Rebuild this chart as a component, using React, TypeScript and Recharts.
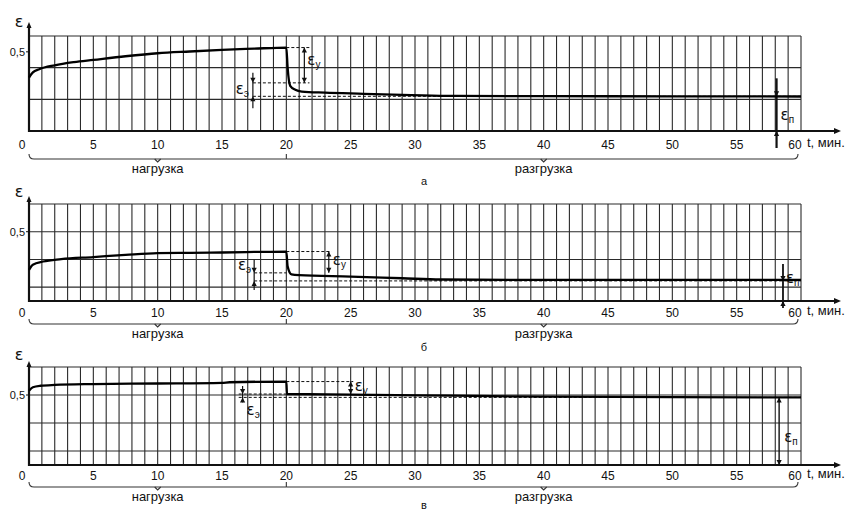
import React from "react";
import {
  CartesianGrid,
  ComposedChart,
  Line,
  ReferenceLine,
  XAxis,
  YAxis,
} from "recharts";

const FONT = '"Liberation Sans Narrow", "Liberation Sans", Arial, sans-serif';
const EPS_FONT = '"DejaVu Sans", "Liberation Sans", sans-serif';
const INK = "#111";
const GRID = "#2a2a2a";

const X_TICKS = [0, 5, 10, 15, 20, 25, 30, 35, 40, 45, 50, 55, 60];
const Y_TICKS = [0.5];
const GRID_MINUTES = Array.from({ length: 61 }, (_, i) => i);
const GRID_EPS_A = [0, 0.1, 0.2, 0.3, 0.4, 0.5, 0.6];
const GRID_EPS_BV = [0, 0.1, 0.2, 0.3, 0.4, 0.5, 0.6, 0.7];

// а
const A_T = [0, 0.3, 0.8, 2, 3.5, 5, 7.5, 10, 12.5, 15, 17.5, 20, 20.1, 20.3, 20.7, 21.2, 23, 26, 29, 32.5, 40, 50, 60];
const A_EPS = [0.337, 0.37, 0.39, 0.415, 0.435, 0.449, 0.472, 0.491, 0.502, 0.512, 0.52, 0.527, 0.4, 0.285, 0.26, 0.249, 0.242, 0.235, 0.228, 0.222, 0.22, 0.219, 0.218];

// б
const B_T = [0, 0.3, 1.1, 2.5, 5, 7.5, 10, 12.5, 15, 17.5, 20, 20.1, 20.4, 21, 25, 29, 32, 40, 50, 60];
const B_EPS = [0.225, 0.262, 0.285, 0.302, 0.317, 0.333, 0.346, 0.348, 0.35, 0.354, 0.357, 0.25, 0.192, 0.186, 0.176, 0.164, 0.155, 0.152, 0.152, 0.152];

// в
const C_T = [0, 0.3, 0.9, 2, 5, 10, 15, 15.6, 20, 20.05, 25, 33, 40, 50, 60];
const C_EPS = [0.53, 0.555, 0.566, 0.572, 0.578, 0.582, 0.587, 0.591, 0.596, 0.507, 0.503, 0.495, 0.488, 0.485, 0.483];

const toRows = (ts: number[], es: number[]) => ts.map((t, i) => ({ t, eps: es[i] }));

function EpsText({ x, y, sub, anchor = "start" }: any) {
  return (
    <text x={x} y={y} textAnchor={anchor} fill={INK} fontFamily={EPS_FONT} fontSize={15}>
      ε
      <tspan fontSize={10} dy={3} fontFamily={FONT}>
        {sub}
      </tspan>
    </text>
  );
}

function dimArrow(
  mode: "in" | "out",
  sub: string,
  lx: number,
  ly: number,
  extTop = 0,
  extBottom = 0,
  sw = 1.2,
  anchor: "start" | "end" = "start"
) {
  return (p: any) => {
    const x = p.x1;
    const top = Math.min(p.y1, p.y2);
    const bot = Math.max(p.y1, p.y2);
    const h = 5;
    const w = 2.6;
    const heads =
      mode === "in"
        ? [
            `${x},${top} ${x - w},${top - h} ${x + w},${top - h}`,
            `${x},${bot} ${x - w},${bot + h} ${x + w},${bot + h}`,
          ]
        : [
            `${x},${top} ${x - w},${top + h} ${x + w},${top + h}`,
            `${x},${bot} ${x - w},${bot - h} ${x + w},${bot - h}`,
          ];
    return (
      <g>
        <line x1={x} x2={x} y1={top - extTop} y2={bot + extBottom} stroke={INK} strokeWidth={sw} />
        {heads.map((pts) => (
          <polygon key={pts} points={pts} fill={INK} />
        ))}
        <EpsText x={x + lx} y={(top + bot) / 2 + ly} sub={sub} anchor={anchor} />
      </g>
    );
  };
}

const xAxisShape = (dy: number) => (p: any) => {
  const end = p.x2 + 40;
  return (
    <g>
      <line x1={p.x1 - 1} x2={end - 4} y1={p.y1} y2={p.y1} stroke={INK} strokeWidth={2.2} />
      <polygon points={`${end},${p.y1} ${end - 7},${p.y1 - 3} ${end - 7},${p.y1 + 3}`} fill={INK} />
      <text x={p.x2 + 6} y={p.y1 + dy} fill={INK} fontFamily={FONT} fontSize={13}>
        t, мин.
      </text>
    </g>
  );
};

const yAxisShape = (ext: number, epsDy: number) => (p: any) => {
  const top = Math.min(p.y1, p.y2);
  const bot = Math.max(p.y1, p.y2);
  const tip = top - ext;
  return (
    <g>
      <line x1={p.x1} x2={p.x1} y1={bot + 1} y2={tip + 4} stroke={INK} strokeWidth={2.2} />
      <polygon points={`${p.x1},${tip} ${p.x1 - 2.5},${tip + 6} ${p.x1 + 2.5},${tip + 6}`} fill={INK} />
      <text x={p.x1 - 10} y={top - epsDy} textAnchor="middle" fill={INK} fontFamily={EPS_FONT} fontSize={16}>
        ε
      </text>
    </g>
  );
};

const braceShape = (dy: number, label: string, first: boolean) => (p: any) => {
  const y = p.y1 + dy;
  const x1 = p.x1;
  const x2 = first ? p.x2 : p.x2 - 3;
  const mid = (p.x1 + p.x2) / 2;
  const d = first
    ? `M${x1},${y - 5} Q${x1},${y} ${x1 + 5},${y} L${x2},${y} M${x2},${y} L${x2},${y - 5}`
    : `M${x1},${y} L${x2 - 5},${y} Q${x2},${y} ${x2},${y - 5}`;
  return (
    <g>
      <path d={d} fill="none" stroke="#333" strokeWidth={1.1} />
      <path d={`M${mid - 3},${y} L${mid},${y + 3} L${mid + 3},${y}`} fill="none" stroke="#333" strokeWidth={1.1} />
      <text x={mid} y={y + 14} textAnchor="middle" fill={INK} fontFamily={FONT} fontSize={13}>
        {label}
      </text>
    </g>
  );
};

const xTick = (dy: number) => (p: any) => {
  const v = p.payload.value;
  const dx = v === 0 ? -7 : v === 60 ? -6 : 0;
  return (
    <text x={p.x + dx} y={p.y + dy} textAnchor="middle" fontSize={12} fontFamily={FONT} fill={INK}>
      {v}
    </text>
  );
};

const dashed = (t1: number, t2: number, e: number, key: string) => (
  <ReferenceLine
    key={key}
    segment={[
      { x: t1, y: e },
      { x: t2, y: e },
    ]}
    stroke={INK}
    strokeWidth={1}
    strokeDasharray="3 2"
  />
);

interface PanelProps {
  rows: { t: number; eps: number }[];
  top: number;
  height: number;
  marginTop: number;
  marginBottom: number;
  yMax: number;
  gridEps: number[];
  axisExt: number;
  epsDy: number;
  tickDy: number;
  braceDy: number;
  letter: string;
  letterTop: number;
  children?: React.ReactNode;
}

function Panel(props: PanelProps) {
  const { rows, top, height, marginTop, marginBottom, yMax, gridEps, axisExt, epsDy, tickDy, braceDy, letter, letterTop } = props;
  return (
    <>
      <div style={{ position: "absolute", left: 0, top, width: 848, height }}>
        <ComposedChart
          width={848}
          height={height}
          data={rows}
          margin={{ top: marginTop, right: 47, bottom: marginBottom, left: 0 }}
        >
          <CartesianGrid
            stroke={GRID}
            strokeWidth={1.1}
            verticalValues={GRID_MINUTES}
            horizontalValues={gridEps}
          />
          <XAxis
            dataKey="t"
            type="number"
            domain={[0, 60]}
            ticks={X_TICKS}
            interval={0}
            tickLine={false}
            axisLine={false}
            tickSize={0}
            tickMargin={0}
            height={20}
            tick={xTick(tickDy)}
          />
          <YAxis
            type="number"
            domain={[0, yMax]}
            ticks={Y_TICKS}
            width={29}
            axisLine={false}
            tickLine={{ stroke: INK }}
            tickSize={3}
            tickMargin={1}
            tickFormatter={(v: number) => String(v).replace(".", ",")}
            tick={{ fontSize: 11, fontFamily: FONT, fill: INK }}
          />
          {props.children}
          <ReferenceLine
            segment={[
              { x: 0, y: 0 },
              { x: 60, y: 0 },
            ]}
            shape={xAxisShape(tickDy - 2)}
          />
          <ReferenceLine
            segment={[
              { x: 0, y: 0 },
              { x: 0, y: yMax },
            ]}
            shape={yAxisShape(axisExt, epsDy)}
          />
          <ReferenceLine
            segment={[
              { x: 0, y: 0 },
              { x: 20, y: 0 },
            ]}
            shape={braceShape(braceDy, "нагрузка", true)}
          />
          <ReferenceLine
            segment={[
              { x: 20, y: 0 },
              { x: 60, y: 0 },
            ]}
            shape={braceShape(braceDy, "разгрузка", false)}
          />
          <Line
            type="monotone"
            dataKey="eps"
            stroke="#000"
            strokeWidth={2.3}
            dot={false}
            isAnimationActive={false}
          />
        </ComposedChart>
      </div>
      <div
        style={{
          position: "absolute",
          left: 0,
          width: 848,
          top: letterTop,
          textAlign: "center",
          fontFamily: FONT,
          fontSize: 11,
          lineHeight: "12px",
          color: INK,
        }}
      >
        {letter}
      </div>
    </>
  );
}

export default function App() {
  return (
    <div style={{ position: "fixed", left: 0, top: 0, width: 848, height: 512, background: "#fff", overflow: "hidden" }}>
      <Panel
        rows={toRows(A_T, A_EPS)}
        top={0}
        height={186}
        marginTop={36}
        marginBottom={35}
        yMax={0.6}
        gridEps={GRID_EPS_A}
        axisExt={14}
        epsDy={9}
        tickDy={18}
        braceDy={28}
        letter="а"
        letterTop={175}
      >
        {dashed(20, 21.8, 0.527, "a1")}
        {dashed(17.4, 21.8, 0.304, "a2")}
        {dashed(17.4, 60, 0.219, "a3")}
        <ReferenceLine segment={[{ x: 21.4, y: 0.527 }, { x: 21.4, y: 0.304 }]} shape={dimArrow("out", "у", 3, 0)} />
        <ReferenceLine segment={[{ x: 17.4, y: 0.304 }, { x: 17.4, y: 0.219 }]} shape={dimArrow("in", "э", -4, 4, 10, 12, 1.2, "end")} />
        <ReferenceLine segment={[{ x: 58.1, y: 0.219 }, { x: 58.1, y: 0 }]} shape={dimArrow("in", "п", 4, 6, 18, 17, 2.2)} />
      </Panel>
      <Panel
        rows={toRows(B_T, B_EPS)}
        top={176}
        height={176}
        marginTop={28}
        marginBottom={31}
        yMax={0.7}
        gridEps={GRID_EPS_BV}
        axisExt={8}
        epsDy={7}
        tickDy={16}
        braceDy={23}
        letter="б"
        letterTop={341}
      >
        {dashed(20, 23.5, 0.357, "b1")}
        {dashed(17.5, 20, 0.203, "b2")}
        {dashed(17.5, 60, 0.145, "b3")}
        <ReferenceLine segment={[{ x: 23.3, y: 0.357 }, { x: 23.3, y: 0.203 }]} shape={dimArrow("out", "у", 4, 3)} />
        <ReferenceLine segment={[{ x: 17.5, y: 0.203 }, { x: 17.5, y: 0.145 }]} shape={dimArrow("in", "э", -3, -7, 13, 9, 1.2, "end")} />
        <ReferenceLine segment={[{ x: 58.6, y: 0.145 }, { x: 58.6, y: 0 }]} shape={dimArrow("in", "п", 3, -8, 17, 7, 1.8)} />
      </Panel>
      <Panel
        rows={toRows(C_T, C_EPS)}
        top={342}
        height={170}
        marginTop={25}
        marginBottom={27}
        yMax={0.7}
        gridEps={GRID_EPS_BV}
        axisExt={6}
        epsDy={7}
        tickDy={15}
        braceDy={22}
        letter="в"
        letterTop={499}
      >
        {dashed(20, 25.2, 0.596, "c1")}
        {dashed(16.3, 20, 0.507, "c2")}
        {dashed(16.3, 60, 0.483, "c3")}
        <ReferenceLine segment={[{ x: 25, y: 0.596 }, { x: 25, y: 0.507 }]} shape={dimArrow("out", "у", 4, 3)} />
        <ReferenceLine segment={[{ x: 16.6, y: 0.507 }, { x: 16.6, y: 0.483 }]} shape={dimArrow("in", "э", 4, 19, 8, 5)} />
        <ReferenceLine segment={[{ x: 58.3, y: 0.483 }, { x: 58.3, y: 0 }]} shape={dimArrow("out", "п", 5, 11, 0, 0, 1.4)} />
      </Panel>
    </div>
  );
}
